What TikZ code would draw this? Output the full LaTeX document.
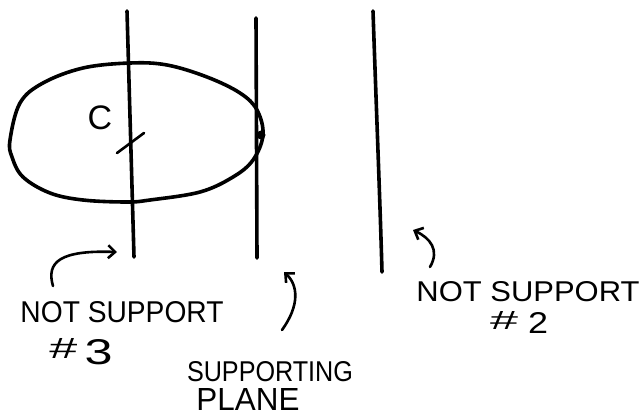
\documentclass[tikz,border=0pt]{standalone}
\usepackage{fontspec}
\usepackage{graphicx}
\setmainfont{Liberation Sans}
\usetikzlibrary{arrows.meta}
\tikzset{
  plane/.style={line width=3.6pt, line cap=round},
  curve/.style={line width=3.6pt},
  pointer/.style={line width=2.6pt, line cap=round, -{Straight Barb[length=7pt,width=13pt,line width=2.6pt]}},
  label/.style={inner sep=0pt, anchor=center}
}
\newcommand{\hw}[3]{\resizebox{#1}{#2}{#3}}
\begin{document}
\begin{tikzpicture}[x=1pt,y=-1pt]
\useasboundingbox (0,0) rectangle (642,418);
% planes
\coordinate (p1t) at (127,11);
\coordinate (p1b) at (134,257);
\coordinate (p2t) at (256,18);
\coordinate (p2b) at (257,258);
\coordinate (p3t) at (373,11);
\coordinate (p3b) at (382,272);
% convex set C
\draw[curve] plot[smooth cycle, tension=0.6] coordinates {
 (10,140) (20,103) (43,83) (83,68) (130,63) (167,65) (207,77) (240,93)
 (257,110) (263,135) (253,160) (233,177) (200,192) (150,200) (127,202)
 (83,200) (50,193) (23,177) (12,157)};
\draw[plane] (p1t) -- (p1b);
\draw[plane] (p2t) -- (p2b);
\draw[plane] (p3t) .. controls (376,100) and (380,200) .. (p3b);
\fill (261,135) circle (4.5pt);
% C label and its mark
\node[label] (c) at (100,118) {\fontsize{34}{34}\selectfont C};
\coordinate (t1) at (117,153);
\coordinate (t2) at (144,133);
\draw[line width=2.6pt, line cap=round] (t1) -- (t2);
% labels
\node[label] (ns3) at (122,312) {\hw{203pt}{21pt}{NOT SUPPORT}};
\node[label] (n3) at (81,352) {\hw{28pt}{20pt}{\#}\hspace{7pt}\raisebox{-6pt}{\hw{28pt}{25pt}{3}}};
\node[label] (sp1) at (270,372) {\hw{166pt}{20pt}{SUPPORTING}};
\node[label] (sp2) at (248,399) {\hw{103pt}{22pt}{PLANE}};
\node[label] (ns2) at (528,292) {\hw{223pt}{20pt}{NOT SUPPORT}};
\node[label] (n2) at (519,322) {\hw{28pt}{18pt}{\#}\hspace{10pt}\raisebox{-4pt}{\hw{20pt}{21pt}{2}}};
% pointers
\coordinate (a1s) at (53,286);
\coordinate (a1e) at (117,252);
\coordinate (a2s) at (282,330);
\coordinate (a2e) at (284,272);
\coordinate (a3s) at (430,267);
\coordinate (a3e) at (413,230);
\draw[pointer] (a1s) .. controls (46,262) and (60,250) .. (a1e);
\draw[pointer] (a2s) .. controls (300,305) and (298,285) .. (a2e);
\draw[pointer] (a3s) .. controls (440,250) and (430,238) .. (a3e);
\end{tikzpicture}
\end{document}
